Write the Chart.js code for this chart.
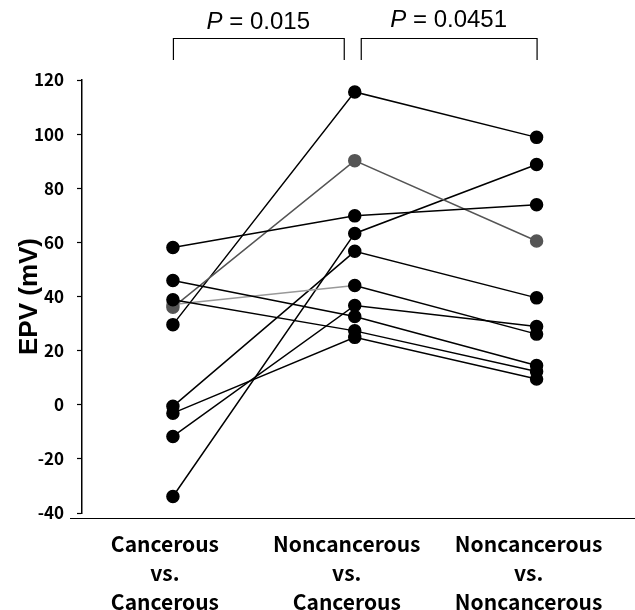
<!DOCTYPE html>
<html>
<head>
<meta charset="utf-8">
<script src="https://cdn.jsdelivr.net/npm/chart.js@4"></script>
<style>
  html, body { margin: 0; padding: 0; background: #fff; }
  #wrap { width: 635px; height: 610px; }
</style>
</head>
<body>
<div id="wrap"><canvas id="epvChart"></canvas></div>
<script>
// Categories (x axis)
const categories = [
    ['Cancerous', 'vs.', 'Cancerous'],
    ['Noncancerous', 'vs.', 'Cancerous'],
    ['Noncancerous', 'vs.', 'Noncancerous']
];

// EPV values per case (one entry per patient, same order in each array)
const cancerousVsCancerous       = [58.1, 45.9, 38.8, 36.0, 37.0, 29.6, -0.6, -3.1, -11.7, -33.9];
const noncancerousVsCancerous    = [69.8, 32.6, 27.3, 90.2, 44.1, 115.6, 56.7, 24.9, 36.7, 63.3];
const noncancerousVsNoncancerous = [73.9, 14.5, 12.3, 60.5, 26.1, 98.8, 39.5, 9.5, 28.9, 88.8];

// Line colour per case
const lineColors = ['#000', '#000', '#000', '#555', '#000', '#000', '#000', '#000', '#000', '#000'];

// Y axis ticks
const yTicks = [-40, -20, 0, 20, 40, 60, 80, 100, 120];

// P values shown above the brackets
const pLabels = ['0.015', '0.0451'];

const cjkFont = '"Noto Sans CJK JP", "Noto Sans", sans-serif';
const pFont = '"Liberation Sans", Arial, sans-serif';

const datasets = cancerousVsCancerous.map((v, i) => {
    const color = lineColors[i];
    const ds = {
        label: 'Case ' + (i + 1),
        data: [v, noncancerousVsCancerous[i], noncancerousVsNoncancerous[i]],
        borderColor: color,
        backgroundColor: color,
        pointBackgroundColor: color,
        pointBorderColor: color,
        borderWidth: 1.5,
        pointRadius: 6,
        pointHoverRadius: 6,
        tension: 0
    };
    // one case has a light grey first segment
    if (i === 4) {
        ds.segment = { borderColor: ctx => ctx.p0DataIndex === 0 ? '#999' : '#000' };
        ds.pointBackgroundColor = ['#888', '#000', '#000'];
        ds.pointBorderColor = ['#888', '#000', '#000'];
    }
    return ds;
});

// Draws the x axis line and the P value brackets
const bracketPlugin = {
    id: 'brackets',
    afterDraw(chart) {
        const ctx = chart.ctx;
        const xs = chart.scales.x;
        const area = chart.chartArea;
        ctx.save();
        ctx.strokeStyle = '#000';
        ctx.lineWidth = 1.2;

        // x axis line, a little below the plot area and longer than it
        ctx.beginPath();
        ctx.moveTo(area.left - 12, area.bottom + 5.5);
        ctx.lineTo(chart.width, area.bottom + 5.5);
        ctx.stroke();

        const x0 = xs.getPixelForValue(0);
        const x1 = xs.getPixelForValue(1);
        const x2 = xs.getPixelForValue(2);
        const spans = [[x0, x1 - 11], [x1 + 6, x2]];
        const top = 38, bottom = 60;
        spans.forEach((s, k) => {
            ctx.beginPath();
            ctx.moveTo(s[0] + 0.5, bottom);
            ctx.lineTo(s[0] + 0.5, top + 0.5);
            ctx.lineTo(s[1] + 0.5, top + 0.5);
            ctx.lineTo(s[1] + 0.5, bottom);
            ctx.stroke();

            // "P = value" with italic P
            const mid = (s[0] + s[1]) / 2;
            const rest = ' = ' + pLabels[k];
            ctx.fillStyle = '#000';
            ctx.textBaseline = 'alphabetic';
            ctx.font = 'italic 24px ' + pFont;
            const wP = ctx.measureText('P').width;
            ctx.font = '24px ' + pFont;
            const wR = ctx.measureText(rest).width;
            const startX = mid - (wP + wR) / 2;
            const baseY = k === 0 ? 29 : 27;
            ctx.font = 'italic 24px ' + pFont;
            ctx.fillText('P', startX, baseY);
            ctx.font = '24px ' + pFont;
            ctx.fillText(rest, startX + wP, baseY);
        });
        ctx.restore();
    }
};

const ctx = document.getElementById('epvChart').getContext('2d');
const epvChart = new Chart(ctx, {
    type: 'line',
    data: {
        labels: categories,
        datasets: datasets
    },
    options: {
        responsive: true,
        maintainAspectRatio: false,
        animation: false,
        layout: {
            padding: { top: 80, right: 7, bottom: 0, left: 0 }
        },
        plugins: {
            legend: { display: false },
            tooltip: { enabled: false }
        },
        scales: {
            x: {
                offset: true,
                afterFit: scale => {
                    scale.height = 97;
                },
                grid: { display: false },
                border: { display: false },
                ticks: {
                    color: '#000',
                    padding: 9,
                    labelOffset: -8,
                    maxRotation: 0,
                    font: { family: cjkFont, size: 21, weight: 'bold', lineHeight: 1.38 }
                }
            },
            y: {
                min: -40,
                max: 120,
                afterBuildTicks: scale => {
                    scale.ticks = yTicks.map(v => ({ value: v }));
                },
                afterFit: scale => {
                    scale.width = 82;
                },
                grid: {
                    drawOnChartArea: false,
                    tickLength: 5,
                    tickColor: '#000',
                    tickWidth: 1.2
                },
                border: { color: '#000', width: 1.5 },
                ticks: {
                    color: '#000',
                    padding: 13,
                    font: { family: cjkFont, size: 17, weight: 'bold' }
                },
                title: {
                    display: true,
                    text: 'EPV (mV)',
                    color: '#000',
                    padding: { top: 14, bottom: 0 },
                    font: { family: pFont, size: 26, weight: 'bold', lineHeight: 1.2 }
                }
            }
        }
    },
    plugins: [bracketPlugin]
});
</script>
</body>
</html>
